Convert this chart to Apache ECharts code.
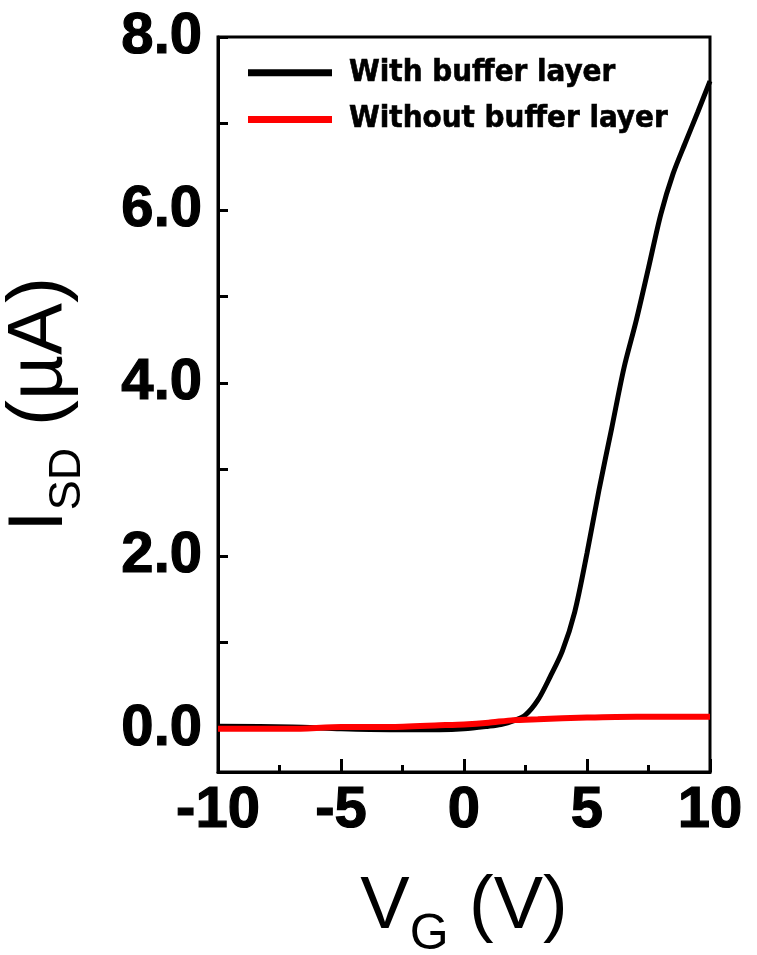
<!DOCTYPE html>
<html>
<head>
<meta charset="utf-8">
<script src="https://cdn.jsdelivr.net/npm/echarts@6/dist/echarts.min.js"></script>
<style>
html,body{margin:0;padding:0;background:#fff;}
#chart{width:757px;height:955px;}
</style>
</head>
<body>
<div id="chart"></div>
<script>
// Data
const withBufferVg = [-10, -7, -5, -3, -1, 0, 1, 1.5, 2, 2.5, 3, 3.5, 4, 4.5, 5, 5.5, 6, 6.5, 7, 7.5, 8, 8.5, 9, 9.5, 10];
const withBufferIsd = [0.03, 0.02, 0.0, -0.01, -0.01, 0.0, 0.03, 0.05, 0.09, 0.16, 0.33, 0.6, 0.9, 1.35, 2.03, 2.78, 3.47, 4.17, 4.72, 5.33, 5.95, 6.42, 6.78, 7.13, 7.49];
const withoutBufferVg = [-10, -7, -5, -3, -1, 0, 1, 2, 3, 5, 7, 10];
const withoutBufferIsd = [0.0, 0.0, 0.02, 0.02, 0.04, 0.05, 0.07, 0.1, 0.11, 0.13, 0.14, 0.14];
const yLabelValues = [0, 2, 4, 6, 8];
const yTickValues = [0, 1, 2, 3, 4, 5, 6, 7, 8];
const seriesNames = ['With buffer layer', 'Without buffer layer'];

const pair = (xs, ys) => xs.map((x, i) => [x, ys[i]]);

const chart = echarts.init(document.getElementById('chart'), null, {renderer: 'canvas'});
const labelFont = {fontFamily: 'Liberation Sans, Arial, sans-serif', fontWeight: 'bold', fontSize: 58, color: '#000', textBorderColor: '#000', textBorderWidth: 1.2};

chart.setOption({
  animation: false,
  backgroundColor: '#fff',
  grid: {left: 218, right: 47, top: 37, bottom: 183, outerBoundsMode: 'none', containLabel: false, show: true, borderColor: '#000', borderWidth: 3, backgroundColor: 'transparent'},
  legend: {
    orient: 'vertical',
    left: 243,
    top: 52,
    itemWidth: 84,
    itemHeight: 7,
    itemGap: 15,
    icon: 'rect',
    data: seriesNames,
    textStyle: {fontFamily: 'DejaVu Sans Condensed, DejaVu Sans, sans-serif', fontWeight: 'bold', fontSize: 31, color: '#000', textBorderColor: '#000', textBorderWidth: 0.6, padding: [0, 0, 0, 12]}
  },
  xAxis: {
    type: 'value',
    min: -10, max: 10, interval: 5,
    axisLine: {show: true, onZero: false, lineStyle: {color: '#000', width: 3}},
    axisTick: {show: true, inside: true, length: 13, lineStyle: {color: '#000', width: 3}},
    minorTick: {show: true, splitNumber: 2, length: 7, lineStyle: {color: '#000', width: 3}},
    splitLine: {show: false},
    axisLabel: Object.assign({margin: 10}, labelFont),
    name: '{a|V}{b|G}{a| (V)}',
    nameLocation: 'middle',
    nameGap: 84,
    nameTextStyle: {
      rich: {
        a: {fontFamily: 'Liberation Sans, Arial, sans-serif', fontSize: 74, lineHeight: 104, color: '#000'},
        b: {fontFamily: 'Liberation Sans, Arial, sans-serif', fontSize: 50, lineHeight: 18, verticalAlign: 'bottom', color: '#000'}
      }
    }
  },
  yAxis: {
    type: 'value',
    min: -0.5, max: 8,
    axisLine: {show: true, onZero: false, lineStyle: {color: '#000', width: 3}},
    axisTick: {show: true, inside: true, length: 10, customValues: yTickValues, lineStyle: {color: '#000', width: 3}},
    splitLine: {show: false},
    axisLabel: Object.assign({margin: 16, customValues: yLabelValues, formatter: v => v.toFixed(1)}, labelFont),
    name: '{a|I}{b|SD}{a| (µA)}',
    nameLocation: 'middle',
    nameRotate: 90,
    nameGap: 128,
    nameTextStyle: {
      rich: {
        a: {fontFamily: 'Liberation Sans, Arial, sans-serif', fontSize: 78, lineHeight: 100, color: '#000'},
        b: {fontFamily: 'Liberation Sans, Arial, sans-serif', fontSize: 45, lineHeight: 22, verticalAlign: 'bottom', color: '#000'}
      }
    }
  },
  series: [
    {
      name: seriesNames[0], type: 'line', data: pair(withBufferVg, withBufferIsd),
      showSymbol: false, smooth: 0.3, color: '#000', lineStyle: {color: '#000', width: 5}, z: 2
    },
    {
      name: seriesNames[1], type: 'line', data: pair(withoutBufferVg, withoutBufferIsd),
      showSymbol: false, smooth: 0.2, color: '#ff0000', lineStyle: {color: '#ff0000', width: 6}, z: 3
    }
  ]
});
</script>
</body>
</html>
